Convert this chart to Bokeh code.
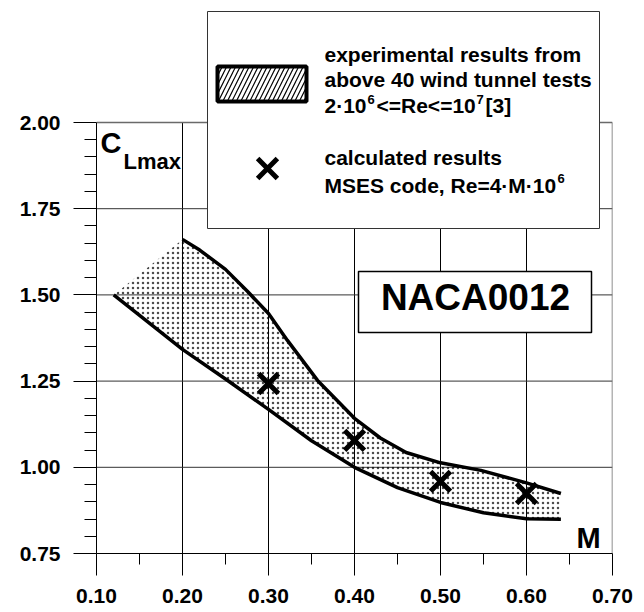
from bokeh.plotting import figure
from bokeh.models import Range1d, FixedTicker
from bokeh.core.properties import value
from bokeh.embed import file_html
from bokeh.resources import INLINE

# ---------------- data ----------------
x_ticks = [0.10, 0.20, 0.30, 0.40, 0.50, 0.60, 0.70]
x_tick_labels = ["0.10", "0.20", "0.30", "0.40", "0.50", "0.60", "0.70"]
y_ticks = [0.75, 1.00, 1.25, 1.50, 1.75, 2.00]
y_tick_labels = ["0.75", "1.00", "1.25", "1.50", "1.75", "2.00"]

# experimental band (lower / upper boundary of >40 wind tunnel tests)
lower_m = [0.12, 0.20, 0.25, 0.30, 0.35, 0.40, 0.45, 0.50, 0.55, 0.60, 0.64]
lower_cl = [1.500, 1.342, 1.256, 1.168, 1.077, 1.000, 0.941, 0.898, 0.868, 0.851, 0.849]
upper_m = [0.20, 0.22, 0.25, 0.276, 0.30, 0.322, 0.357, 0.40, 0.43, 0.46, 0.50, 0.547, 0.60, 0.64]
upper_cl = [1.661, 1.630, 1.574, 1.509, 1.446, 1.368, 1.252, 1.142, 1.085, 1.043, 1.013, 0.991, 0.955, 0.924]

# MSES calculated results
calc_m = [0.30, 0.40, 0.50, 0.60]
calc_cl = [1.243, 1.078, 0.959, 0.924]

FONT = value("Liberation Sans")

# ---------------- layout helpers (reference pixel -> data) ----------------
def mx(px):
    return 0.10 + (px - 96) * 0.60 / 516.0

def cy(py):
    return 0.75 + (553 - py) * 1.25 / 431.0

W, H = 644, 612
p = figure(width=W, height=H,
           x_range=Range1d(0.10, 0.70), y_range=Range1d(0.75, cy(0)),
           output_backend="svg", toolbar_location=None,
           min_border_left=96, min_border_right=W - 612,
           min_border_top=0, min_border_bottom=H - 553)
p.title.visible = False
p.outline_line_color = None
p.xgrid.visible = False
p.ygrid.visible = False
p.background_fill_color = "white"
p.border_fill_color = "white"

# ---- axes ----
x_minor = [round(0.15 + 0.1 * i, 2) for i in range(6)]
y_minor = [round(0.75 + 0.05 * i, 2) for i in range(26) if i % 5 != 0]

xa = p.xaxis[0]
xa.ticker = FixedTicker(ticks=x_ticks, minor_ticks=x_minor)
xa.bounds = (0.10, 0.70)
xa.major_label_overrides = dict(zip(x_ticks, x_tick_labels))
xa.major_tick_out = 22
xa.major_tick_in = 0
xa.minor_tick_out = 11
xa.minor_tick_in = 0
xa.major_label_standoff = 13

ya = p.yaxis[0]
ya.ticker = FixedTicker(ticks=y_ticks, minor_ticks=y_minor)
ya.bounds = (0.75, 2.00)
ya.major_label_overrides = dict(zip(y_ticks, y_tick_labels))
ya.major_tick_out = 23
ya.major_tick_in = 0
ya.minor_tick_out = 12
ya.minor_tick_in = 0
ya.major_label_standoff = 13

for ax in (xa, ya):
    ax.axis_line_color = "black"
    ax.axis_line_width = 1
    ax.major_tick_line_color = "black"
    ax.minor_tick_line_color = "black"
    ax.major_label_text_font = "Liberation Sans"
    ax.major_label_text_font_style = "bold"
    ax.major_label_text_font_size = "21px"
    ax.major_label_text_color = "black"

# ---- grid lines ----
gx = x_ticks[1:-1]
p.segment(x0=gx, y0=[y_ticks[0]] * len(gx), x1=gx, y1=[y_ticks[-1]] * len(gx),
          line_color="black", line_width=1)
gy = y_ticks[1:-1]
p.segment(x0=[x_ticks[0]] * len(gy), y0=gy, x1=[x_ticks[-1]] * len(gy), y1=gy,
          line_color="#333333", line_width=1)
# frame top and right
p.segment(x0=[x_ticks[0], x_ticks[-1]], y0=[y_ticks[-1], y_ticks[0]],
          x1=[x_ticks[-1], x_ticks[-1]], y1=[y_ticks[-1], y_ticks[-1]],
          line_color="#6a6a6a", line_width=1.5)

# ---- experimental band ----
band_x = lower_m + upper_m[::-1]
band_y = lower_cl + upper_cl[::-1]
p.patch(band_x, band_y, fill_color="white", fill_alpha=0.0, line_color=None,
        hatch_pattern=".", hatch_scale=5, hatch_weight=1.0,
        hatch_color="black", hatch_alpha=0.7)
p.line(lower_m, lower_cl, line_color="black", line_width=3.5)
p.line(upper_m, upper_cl, line_color="black", line_width=3.5)

# ---- calculated results ----
p.scatter(calc_m, calc_cl, marker="x", size=28, line_color="black", line_width=5)

# ---- texts (py = desired baseline in px; corrected for bokeh's baseline offset) ----
def txt(px, py, s, size, align="left"):
    fs = float(size.replace("px", ""))
    p.text(x=[mx(px)], y=[cy(py - 0.37 * fs)], text=[s], text_font=FONT,
           text_font_style="bold", text_font_size=size, text_baseline="alphabetic",
           text_align=align, text_color="black")

txt(100, 153, "C", "29px")
txt(123, 169, "Lmax", "22px")
txt(576, 548, "M", "29px")

# ---- legend box ----
p.quad(left=[mx(207)], right=[mx(599)], top=[cy(11)], bottom=[cy(228)],
       fill_color="white", line_color="#333333", line_width=1)
p.quad(left=[mx(217)], right=[mx(306)], top=[cy(66)], bottom=[cy(101)],
       fill_color="white", line_color="black", line_width=4,
       hatch_pattern="/", hatch_scale=9, hatch_weight=1.2, hatch_color="black")
txt(324, 62, "experimental results from", "21px")
txt(324, 87, "above 40 wind tunnel tests", "21px")
txt(324, 113, "2\u00b710", "21px")
txt(367, 104, "6", "13px")
txt(376, 113, "<=Re<=10", "21px")
txt(476, 104, "7", "13px")
txt(485, 113, "[3]", "21px")
p.scatter([mx(267)], [cy(168)], marker="x", size=28, line_color="black", line_width=5)
txt(324, 165, "calculated results", "21px")
txt(324, 193, "MSES code, Re=4\u00b7M\u00b710", "21px")
txt(557, 183, "6", "13px")

# ---- NACA box ----
p.quad(left=[mx(358)], right=[mx(591)], top=[cy(271)], bottom=[cy(332)],
       fill_color="white", line_color="black", line_width=1.5)
txt(475, 311, "NACA0012", "37px", align="center")

open("out.html", "w").write(file_html(p, INLINE))
